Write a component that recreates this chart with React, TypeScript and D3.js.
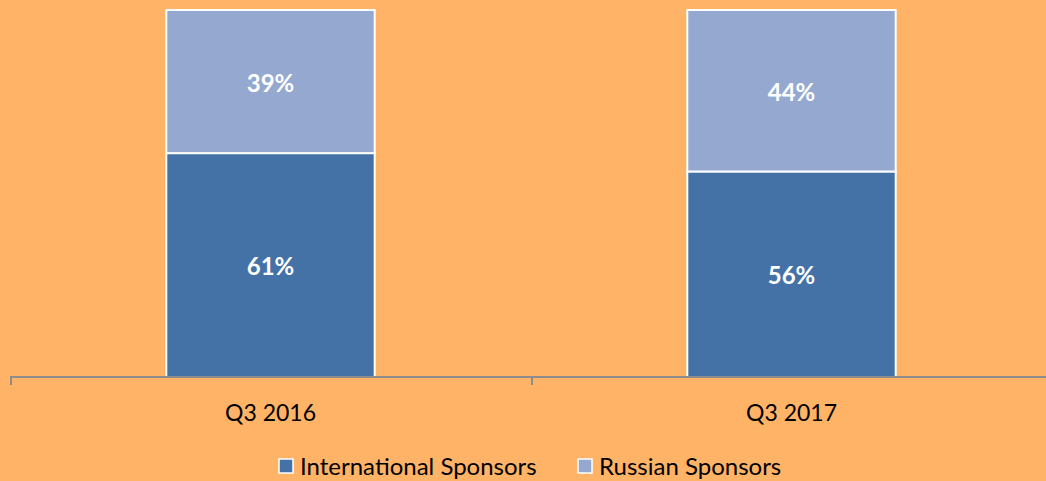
import React, { useRef, useEffect } from 'react'
import * as d3 from 'd3'

const categories = ['Q3 2016', 'Q3 2017']
const seriesNames = ['International Sponsors', 'Russian Sponsors']
const international = [61, 56]
const russian = [39, 44]
const colors = ['#4472A6', '#95A9D0']

const W = 1046
const H = 481

const App = () => {
  const svgRef = useRef<SVGSVGElement>(null)

  useEffect(() => {
    const svg = d3.select(svgRef.current)
    svg.selectAll('*').remove()

    const font = 'Lato, "Open Sans", sans-serif'
    const margin = { top: 10, left: 10, right: -6, bottom: 104 }

    svg.append('rect').attr('width', W).attr('height', H).attr('fill', '#FFB366')

    const x = d3
      .scaleBand()
      .domain(categories)
      .range([margin.left, W - margin.right])
      .paddingInner(0)
      .paddingOuter(0)
    const y = d3.scaleLinear().domain([0, 100]).range([H - margin.bottom, margin.top])

    const barW = x.bandwidth() * 0.4
    const rows = categories.map((c, i) => ({ cat: c, a: international[i], b: russian[i] }))
    const stack = d3.stack<any>().keys(['a', 'b'])(rows)

    stack.forEach((layer, li) => {
      svg
        .append('g')
        .selectAll('rect')
        .data(layer)
        .enter()
        .append('rect')
        .attr('x', d => x(d.data.cat)! + (x.bandwidth() - barW) / 2)
        .attr('y', d => y(d[1]))
        .attr('width', barW)
        .attr('height', d => y(d[0]) - y(d[1]))
        .attr('fill', colors[li])
        .attr('stroke', '#fff')
        .attr('stroke-width', 2)

      svg
        .append('g')
        .selectAll('text')
        .data(layer)
        .enter()
        .append('text')
        .attr('x', d => x(d.data.cat)! + x.bandwidth() / 2)
        .attr('y', d => (y(d[0]) + y(d[1])) / 2)
        .attr('dy', '0.42em')
        .attr('text-anchor', 'middle')
        .attr('fill', '#fff')
        .attr('font-family', font)
        .attr('font-weight', 'bold')
        .attr('font-size', 24)
        .text(d => `${d[1] - d[0]}%`)
    })

    // axis
    const axisY = y(0)
    const g = svg.append('g').attr('transform', `translate(0, ${axisY})`)
    g.append('line')
      .attr('x1', margin.left)
      .attr('x2', W - margin.right)
      .attr('stroke', '#8C8C8C')
      .attr('stroke-width', 2)
    const tickXs = categories.map(c => x(c)!).concat([x(categories[categories.length - 1])! + x.bandwidth()])
    g.selectAll('.tick')
      .data(tickXs)
      .enter()
      .append('line')
      .attr('x1', d => d + 1)
      .attr('x2', d => d + 1)
      .attr('y1', 0)
      .attr('y2', 8)
      .attr('stroke', '#8C8C8C')
      .attr('stroke-width', 2)
    g.selectAll('.lbl')
      .data(categories)
      .enter()
      .append('text')
      .attr('x', d => x(d)! + x.bandwidth() / 2)
      .attr('y', 44)
      .attr('text-anchor', 'middle')
      .attr('font-family', font)
      .attr('font-size', 23)
      .attr('fill', '#000')
      .text(d => d)

    // legend
    const legendX = [278, 577]
    const leg = svg.append('g')
    seriesNames.forEach((name, i) => {
      leg.append('rect')
        .attr('x', legendX[i] + 1)
        .attr('y', 459)
        .attr('width', 14)
        .attr('height', 14)
        .attr('fill', colors[i])
        .attr('stroke', '#fff')
        .attr('stroke-width', 1.5)
      leg.append('text')
        .attr('x', legendX[i] + 22)
        .attr('y', 475)
        .attr('font-family', font)
        .attr('font-size', 24)
        .attr('fill', '#000')
        .text(name)
    })
  }, [])

  return <svg ref={svgRef} width={W} height={H} style={{ display: 'block', position: 'absolute', left: 0, top: 0 }}></svg>
}

export default App
